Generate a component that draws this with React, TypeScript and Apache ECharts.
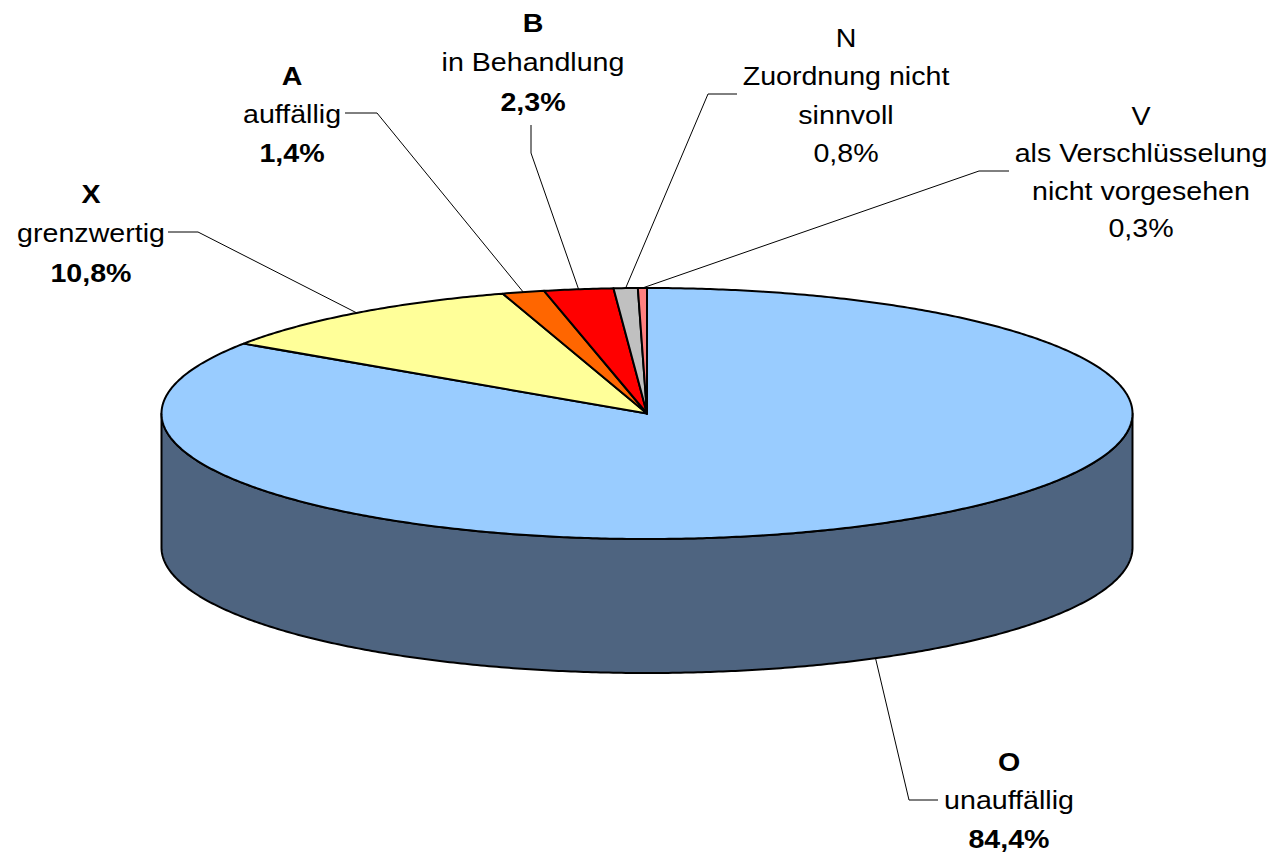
import { useEffect, useRef } from 'react';
import * as echarts from 'echarts';

// ---- data ----
const categories = ['O', 'X', 'A', 'B', 'N', 'V'];
const descriptions = [
  ['unauffällig'],
  ['grenzwertig'],
  ['auffällig'],
  ['in Behandlung'],
  ['Zuordnung nicht', 'sinnvoll'],
  ['als Verschlüsselung', 'nicht vorgesehen'],
];
const values = [84.4, 10.8, 1.4, 2.3, 0.8, 0.3];

// ---- styles / layout ----
const topColors = ['#99CCFF', '#FFFF99', '#FF6600', '#FF0000', '#C0C0C0', '#FF8080'];
const sideColors = ['#4E6480', '#9E9E5A', '#A04000', '#A00000', '#7A7A7A', '#A05050'];
const boldLabels = [true, true, true, true, false, false];
const PIE = { cx: 647, cy: 413.5, rx: 485.5, ry: 125.5, depth: 134 };
const FONT_SIZE = 26;
const TEXT_STRETCH = 1.1;
const FONT_FAMILY = '"Liberation Sans", Arial, Helvetica, sans-serif';
// label centre x, first baseline y, line height, leader elbow and end points
const labelLayout = [
  { x: 1009, y: 771, lh: 38.5, elbow: [909, 800], end: [938, 800], fromBottom: true },
  { x: 91, y: 203, lh: 39.5, elbow: [198, 232], end: [168, 232], fromBottom: false },
  { x: 292, y: 85, lh: 38.5, elbow: [377, 113], end: [345, 113], fromBottom: false },
  { x: 533, y: 32, lh: 39.5, elbow: [531, 153], end: [531, 125], fromBottom: false },
  { x: 846, y: 47, lh: 38.5, elbow: [708, 94], end: [737, 94], fromBottom: false },
  { x: 1141, y: 125, lh: 37.5, elbow: [979, 171], end: [1009, 171], fromBottom: false },
];

const total = values.reduce((a, b) => a + b, 0);
const startPct = values.map((_, i) => values.slice(0, i).reduce((a, b) => a + b, 0));

function pt(deg: number, dy = 0): number[] {
  const r = (deg * Math.PI) / 180;
  return [PIE.cx + PIE.rx * Math.sin(r), PIE.cy - PIE.ry * Math.cos(r) + dy];
}
function arc(a1: number, a2: number, dy = 0): number[][] {
  const n = Math.max(2, Math.ceil((a2 - a1) / 0.5));
  const pts: number[][] = [];
  for (let k = 0; k <= n; k++) pts.push(pt(a1 + ((a2 - a1) * k) / n, dy));
  return pts;
}
function fmtPct(v: number): string {
  return v.toFixed(1).replace('.', ',') + '%';
}

export default function App() {
  const ref = useRef<HTMLDivElement>(null);
  useEffect(() => {
    document.body.style.margin = '0';
    if (!ref.current) return;
    const chart = echarts.init(ref.current, undefined, { renderer: 'svg' });

    const renderItem = (params: any, api: any) => {
      const i = params.dataIndex;
      const v = api.value(0) as number;
      const a1 = (startPct[i] / total) * 360;
      const a2 = a1 + (v / total) * 360;
      const children: any[] = [];

      // visible side wall (front half)
      const s = Math.max(a1, 90);
      const e = Math.min(a2, 270);
      if (e > s) {
        const topArc = arc(s, e);
        const botArc = arc(s, e, PIE.depth).reverse();
        children.push({
          type: 'polygon',
          z2: 1,
          shape: { points: topArc.concat(botArc) },
          style: { fill: sideColors[i], stroke: '#000', lineWidth: 2, lineJoin: 'round' },
        });
      }
      // top face
      children.push({
        type: 'polygon',
        z2: 2,
        shape: { points: [[PIE.cx, PIE.cy]].concat(arc(a1, a2)) },
        style: { fill: topColors[i], stroke: '#000', lineWidth: 2, lineJoin: 'round' },
      });

      // leader line
      const L = labelLayout[i];
      const mid = (a1 + a2) / 2;
      const start = L.fromBottom ? pt(mid, PIE.depth) : pt(mid);
      children.push({
        type: 'polyline',
        z2: 3,
        shape: { points: [start, L.elbow, L.end] },
        style: { stroke: '#000', lineWidth: 1, fill: 'none' },
      });

      // label lines
      const lines = [categories[i], ...descriptions[i], fmtPct(v)];
      lines.forEach((t, k) => {
        const bold = boldLabels[i] && (k === 0 || k === lines.length - 1);
        children.push({
          type: 'text',
          z2: 4,
          x: L.x,
          y: L.y + k * L.lh - FONT_SIZE * 0.35,
          scaleX: TEXT_STRETCH,
          style: {
            text: t,
            x: 0,
            y: 0,
            fill: '#000',
            font: `${bold ? 'bold ' : ''}${FONT_SIZE}px ${FONT_FAMILY}`,
            align: 'center',
            verticalAlign: 'middle',
          },
        });
      });

      return { type: 'group', children };
    };

    chart.setOption({
      animation: false,
      backgroundColor: '#ffffff',
      series: [
        {
          type: 'custom',
          coordinateSystem: 'none',
          renderItem,
          silent: true,
          data: values.map((v, i) => ({ name: categories[i], value: [v] })),
        },
      ],
    });
    return () => chart.dispose();
  }, []);
  return <div ref={ref} style={{ width: 1276, height: 857 }} />;
}
